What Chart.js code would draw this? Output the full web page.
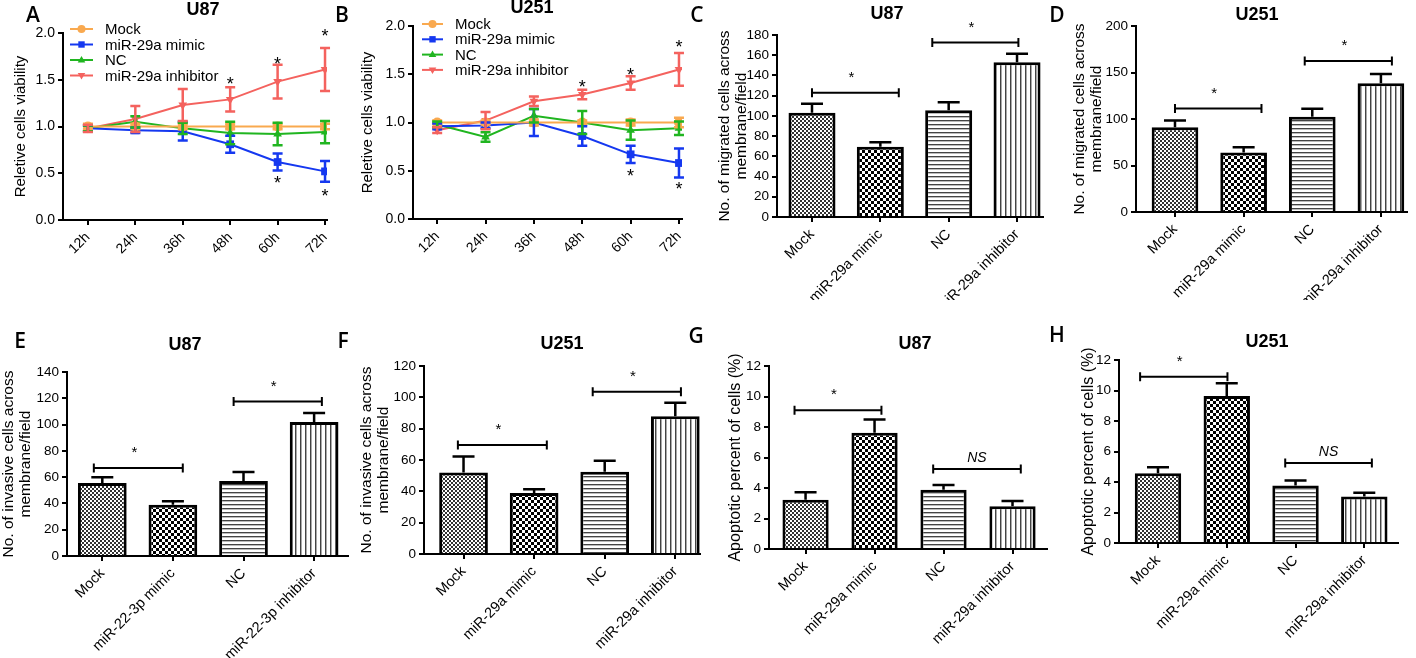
<!DOCTYPE html>
<html>
<head>
<meta charset="utf-8">
<title>miR-29a figure</title>
<script src="https://cdn.jsdelivr.net/npm/chart.js@4.4.1/dist/chart.umd.min.js"></script>
<style>
  html, body { margin: 0; padding: 0; background: #fff; }
  #fig { position: relative; width: 1416px; height: 658px; overflow: hidden; background: #fff; font-family: "Liberation Sans", Arial, sans-serif; }
  #fig canvas { position: absolute; }
  .letter { position: absolute; font-family: "Open Sans", sans-serif; font-weight: 600; font-size: 21px; line-height: 1; transform: translate(-50%, -50%); z-index: 2; }
  .ttl { position: absolute; font-weight: bold; font-size: 18px; line-height: 1; transform: translate(-50%, -50%); z-index: 2; white-space: nowrap; }
</style>
</head>
<body>
<div id="fig">
  <div class="letter" style="left:33px;top:14px">A</div>
  <div class="letter" style="left:342px;top:14px">B</div>
  <div class="letter" style="left:697px;top:14px">C</div>
  <div class="letter" style="left:1057px;top:14px">D</div>
  <div class="letter" style="left:20px;top:340px">E</div>
  <div class="letter" style="left:343px;top:340px">F</div>
  <div class="letter" style="left:696px;top:335px">G</div>
  <div class="letter" style="left:1057px;top:334px">H</div>
  <div class="ttl" style="left:203px;top:9px">U87</div>
  <div class="ttl" style="left:532px;top:7px">U251</div>
  <div class="ttl" style="left:887px;top:13px">U87</div>
  <div class="ttl" style="left:1257px;top:14px">U251</div>
  <div class="ttl" style="left:185px;top:344px">U87</div>
  <div class="ttl" style="left:562px;top:343px">U251</div>
  <div class="ttl" style="left:915px;top:343px">U87</div>
  <div class="ttl" style="left:1267px;top:341px">U251</div>
</div>
<script>
// ---- data ----
const hours = [12, 24, 36, 48, 60, 72];
const lineNames = ['Mock', 'miR-29a mimic', 'NC', 'miR-29a inhibitor'];
const lineColors = ['#f9a94f', '#1538f0', '#20b520', '#f4625e'];
const viabilityTicks = [0, 0.5, 1.0, 1.5, 2.0];

// A: U87 viability
const aMock = [1.0, 1.0, 1.0, 1.0, 1.0, 1.0];
const aMockErr = [0.03, 0.03, 0.03, 0.03, 0.03, 0.03];
const aMimic = [0.98, 0.96, 0.95, 0.81, 0.62, 0.52];
const aMimicErr = [0.03, 0.03, 0.10, 0.09, 0.09, 0.11];
const aNC = [0.98, 1.05, 0.98, 0.93, 0.92, 0.94];
const aNCErr = [0.03, 0.06, 0.06, 0.12, 0.12, 0.12];
const aInhib = [0.98, 1.08, 1.23, 1.29, 1.48, 1.61];
const aInhibErr = [0.04, 0.14, 0.17, 0.13, 0.18, 0.23];
const aStars = [[48, 1.50], [60, 1.71], [72, 2.01], [60, 0.44], [72, 0.30]];

// B: U251 viability
const bMock = [1.0, 1.0, 1.0, 1.0, 1.0, 1.0];
const bMockErr = [0.02, 0.02, 0.03, 0.02, 0.03, 0.05];
const bMimic = [0.96, 0.97, 1.0, 0.86, 0.67, 0.58];
const bMimicErr = [0.03, 0.03, 0.14, 0.10, 0.09, 0.15];
const bNC = [0.98, 0.85, 1.07, 1.0, 0.92, 0.94];
const bNCErr = [0.03, 0.05, 0.07, 0.12, 0.10, 0.07];
const bInhib = [0.92, 1.02, 1.22, 1.29, 1.41, 1.55];
const bInhibErr = [0.03, 0.09, 0.05, 0.05, 0.07, 0.17];
const bStars = [[48, 1.41], [60, 1.54], [72, 1.83], [60, 0.49], [72, 0.36]];

// bar panels
const groups29a = ['Mock', 'miR-29a mimic', 'NC', 'miR-29a inhibitor'];
const groups22 = ['Mock', 'miR-22-3p mimic', 'NC', 'miR-22-3p inhibitor'];

const cMigrated = [103, 69.5, 105.5, 153];
const cMigratedErr = [9, 4.5, 8, 8.5];
const cTicks = [0, 20, 40, 60, 80, 100, 120, 140, 160, 180];
const cSig = [[0, 1.27, 123, '*', 142], [1.76, 3.02, 172.5, '*', 191]];

const dMigrated = [91, 64, 102.5, 138.5];
const dMigratedErr = [7.5, 5.5, 8.5, 10];
const dTicks = [0, 50, 100, 150, 200];
const dSig = [[0, 1.26, 111.3, '*', 131.8], [1.89, 3.16, 162.3, '*', 183]];

const eInvasive = [55.5, 39, 57, 102];
const eInvasiveErr = [4.5, 2.7, 7, 6.8];
const eTicks = [0, 20, 40, 60, 80, 100, 120, 140];
const eSig = [[-0.12, 1.14, 67, '*', 81.8], [1.86, 3.11, 117.5, '*', 132.4]];

const fInvasive = [52, 39, 52.5, 88];
const fInvasiveErr = [10.3, 2.4, 7, 8.6];
const fTicks = [0, 20, 40, 60, 80, 100, 120];
const fSig = [[-0.08, 1.18, 69.6, '*', 82], [1.83, 3.08, 103.6, '*', 115.7]];

const gApoptotic = [3.23, 7.63, 3.88, 2.81];
const gApoptoticErr = [0.49, 0.87, 0.32, 0.33];
const apoTicks = [0, 2, 4, 6, 8, 10, 12];
const gSig = [[-0.16, 1.10, 9.1, '*', 10.4], [1.85, 3.12, 5.25, 'NS', 6.05]];

const hApoptotic = [4.58, 9.64, 3.77, 3.05];
const hApoptoticErr = [0.39, 0.83, 0.33, 0.25];
const hSig = [[-0.26, 1.01, 10.9, '*', 12.2], [1.85, 3.11, 5.24, 'NS', 6.05]];

// ---- setup ----
Chart.defaults.font.family = '"Liberation Sans", Arial, sans-serif';
Chart.defaults.color = '#000';
Chart.defaults.animation = false;
Chart.defaults.plugins.legend.display = false;
Chart.defaults.plugins.tooltip.enabled = false;

function drawLabel(ctx, text, cx, cy, opts) {
    ctx.textAlign = 'center';
    ctx.textBaseline = 'alphabetic';
    if (text === '*') {
        const s = opts.starSize || 15;
        ctx.font = s + 'px "Liberation Sans", Arial';
        ctx.fillText('*', cx + (opts.starDx || 0), cy + 0.57 * s);
    } else {
        ctx.font = 'italic 14px "Liberation Sans", Arial';
        ctx.fillText(text, cx, cy + 0.36 * 14);
    }
}

function drawMarker(ctx, style, flip, x, y, r) {
    ctx.beginPath();
    if (style === 'circle') {
        ctx.arc(x, y, r, 0, Math.PI * 2);
    } else if (style === 'rect') {
        ctx.rect(x - r * 0.8, y - r * 0.8, r * 1.6, r * 1.6);
    } else {
        const d = flip ? -1 : 1;
        ctx.moveTo(x, y - d * r);
        ctx.lineTo(x + r * 0.95, y + d * r * 0.6);
        ctx.lineTo(x - r * 0.95, y + d * r * 0.6);
        ctx.closePath();
    }
    ctx.fill();
}

const errorBars = {
    id: 'errorBars',
    afterDatasetsDraw(chart, args, opts) {
        const ctx = chart.ctx, ys = chart.scales.y;
        chart.data.datasets.forEach(function (ds, i) {
            if (!ds.errors) return;
            const meta = chart.getDatasetMeta(i);
            const cap = opts.cap || 5;
            ctx.save();
            ctx.strokeStyle = opts.color || ds.borderColor;
            ctx.lineWidth = opts.width || 2;
            meta.data.forEach(function (el, j) {
                const v = meta.controller.getParsed(j).y, e = ds.errors[j];
                const top = ys.getPixelForValue(v + e);
                const bot = opts.upOnly ? el.y : ys.getPixelForValue(v - e);
                ctx.beginPath();
                ctx.moveTo(el.x, top); ctx.lineTo(el.x, bot);
                ctx.moveTo(el.x - cap, top); ctx.lineTo(el.x + cap, top);
                if (!opts.upOnly) { ctx.moveTo(el.x - cap, bot); ctx.lineTo(el.x + cap, bot); }
                ctx.stroke();
            });
            ctx.restore();
        });
    }
};

const sigMarks = {
    id: 'sigMarks',
    afterDraw(chart, args, opts) {
        const ctx = chart.ctx, x = chart.scales.x, y = chart.scales.y;
        ctx.save();
        ctx.strokeStyle = '#000';
        ctx.fillStyle = '#000';
        ctx.lineWidth = 2;
        (opts.brackets || []).forEach(function (b) {
            const x1 = x.getPixelForValue(b[0]), x2 = x.getPixelForValue(b[1]), py = y.getPixelForValue(b[2]);
            ctx.beginPath();
            ctx.moveTo(x1, py); ctx.lineTo(x2, py);
            ctx.moveTo(x1, py - 4.5); ctx.lineTo(x1, py + 4.5);
            ctx.moveTo(x2, py - 4.5); ctx.lineTo(x2, py + 4.5);
            ctx.stroke();
            drawLabel(ctx, b[3], (x1 + x2) / 2, y.getPixelForValue(b[4]), opts);
        });
        (opts.stars || []).forEach(function (s) {
            drawLabel(ctx, '*', x.getPixelForValue(s[0]), y.getPixelForValue(s[1]), opts);
        });
        ctx.restore();
    }
};

const insideLegend = {
    id: 'insideLegend',
    afterDraw(chart, args, opts) {
        if (!opts || !opts.show) return;
        const ctx = chart.ctx, area = chart.chartArea;
        ctx.save();
        chart.data.datasets.forEach(function (ds, i) {
            const y = area.top + opts.dy + i * opts.rowH;
            const x0 = area.left + opts.dx;
            ctx.strokeStyle = ds.borderColor;
            ctx.fillStyle = ds.borderColor;
            ctx.lineWidth = 2;
            ctx.beginPath();
            ctx.moveTo(x0, y); ctx.lineTo(x0 + opts.lineLen, y);
            ctx.stroke();
            drawMarker(ctx, ds.pointStyle, ds.pointRotation, x0 + opts.lineLen / 2, y, 4);
            ctx.fillStyle = '#000';
            ctx.font = '15px "Liberation Sans", Arial';
            ctx.textAlign = 'left';
            ctx.textBaseline = 'middle';
            ctx.fillText(ds.label, x0 + opts.textDx, y + 1);
        });
        ctx.restore();
    }
};

Chart.register(errorBars, sigMarks, insideLegend);

function addCanvas(box) {
    const c = document.createElement('canvas');
    c.width = box.w;
    c.height = box.h;
    c.style.left = box.left + 'px';
    c.style.top = box.top + 'px';
    c.style.width = box.w + 'px';
    c.style.height = box.h + 'px';
    document.getElementById('fig').appendChild(c);
    return c;
}

function makePattern(w, h, paint) {
    const c = document.createElement('canvas');
    c.width = w; c.height = h;
    const g = c.getContext('2d');
    g.fillStyle = '#fff';
    g.fillRect(0, 0, w, h);
    paint(g);
    return g.createPattern(c, 'repeat');
}

const barFills = [
    makePattern(4, 4, function (g) { g.fillStyle = '#333'; g.fillRect(0, 0, 2, 2); g.fillRect(2, 2, 2, 2); }),
    makePattern(6, 6, function (g) { g.fillStyle = '#000'; g.fillRect(0, 0, 3, 3); g.fillRect(3, 3, 3, 3); }),
    makePattern(1, 4, function (g) { g.fillStyle = '#444'; g.fillRect(0, 0, 1, 1); g.fillStyle = '#bbb'; g.fillRect(0, 1, 1, 1); }),
    makePattern(5, 1, function (g) { g.fillStyle = '#444'; g.fillRect(0, 0, 1, 1); g.fillStyle = '#aaa'; g.fillRect(1, 0, 1, 1); })
];

function frameOptions(box, x, y) {
    const al = box.area[0], at = box.area[1], ar = box.area[2], ab = box.area[3];
    const axisLine = { color: '#000', width: 2 };
    const tickGrid = { drawOnChartArea: false, color: '#000', lineWidth: 2, tickLength: 5, offset: false };
    return {
        responsive: false,
        layout: { padding: { left: 0, top: at - box.top, right: box.left + box.w - ar, bottom: 0 } },
        scales: {
            x: {
                type: 'linear', min: x.min, max: x.max, offset: false,
                grid: tickGrid, border: axisLine,
                afterBuildTicks: function (s) { s.ticks = x.ticks.map(function (v) { return { value: v }; }); },
                afterFit: function (s) { s.height = box.top + box.h - ab; },
                ticks: { autoSkip: false, minRotation: 45, maxRotation: 45, padding: 4, color: '#000', font: { size: x.size }, callback: x.label }
            },
            y: {
                type: 'linear', min: y.ticks[0], max: y.ticks[y.ticks.length - 1],
                grid: tickGrid, border: axisLine,
                afterBuildTicks: function (s) { s.ticks = y.ticks.map(function (v) { return { value: v }; }); },
                afterFit: function (s) { s.width = al - box.left; },
                ticks: { padding: 3, color: '#000', font: { size: y.tickSize }, callback: y.label },
                title: { display: true, text: y.title, color: '#000', font: { size: y.titleSize, lineHeight: 1.1 }, padding: { top: y.titlePad, bottom: 0 } }
            }
        }
    };
}

function lineChart(box, series, errs, stars, xRange, titlePad, legend) {
    const styles = [['circle', 0], ['rect', 0], ['triangle', 0], ['triangle', 180]];
    const opts = frameOptions(box,
        { min: xRange[0], max: xRange[1], ticks: hours, size: 14, label: function (v) { return v + 'h'; } },
        { ticks: viabilityTicks, tickSize: 14, label: function (v) { return v.toFixed(1); },
          title: 'Reletive cells viability', titleSize: 15, titlePad: titlePad });
    opts.plugins = {
        errorBars: { cap: 5, width: 2.5 },
        sigMarks: { stars: stars, starSize: 18 },
        insideLegend: Object.assign({ show: true }, legend)
    };
    new Chart(addCanvas(box), {
        type: 'line',
        data: {
            datasets: series.map(function (vals, i) {
                return {
                    label: lineNames[i],
                    data: hours.map(function (h, j) { return { x: h, y: vals[j] }; }),
                    errors: errs[i],
                    borderColor: lineColors[i],
                    backgroundColor: lineColors[i],
                    borderWidth: 2,
                    pointStyle: styles[i][0],
                    pointRotation: styles[i][1],
                    pointRadius: i === 1 ? 5.5 : 5,
                    pointBorderWidth: 0,
                    tension: 0,
                    fill: false
                };
            })
        },
        options: opts
    });
}

function barChart(box, cats, vals, errs, yTicks, yTitle, titleSize, titlePad, xRange, pct, sig) {
    const opts = frameOptions(box,
        { min: xRange[0], max: xRange[1], ticks: [0, 1, 2, 3], size: 14.5, label: function (v) { return cats[v]; } },
        { ticks: yTicks, tickSize: 13.5, label: function (v) { return v; },
          title: yTitle, titleSize: titleSize, titlePad: titlePad });
    opts.plugins = {
        errorBars: { cap: 11, width: 2.5, color: '#000', upOnly: true },
        sigMarks: { brackets: sig, starSize: 15, starDx: -4 }
    };
    new Chart(addCanvas(box), {
        type: 'bar',
        data: {
            datasets: [{
                data: vals.map(function (v, i) { return { x: i, y: v }; }),
                errors: errs,
                backgroundColor: barFills,
                borderColor: '#000',
                borderWidth: 3,
                borderSkipped: 'start',
                barPercentage: pct,
                categoryPercentage: 1
            }]
        },
        options: opts
    });
}

const migratedTitle = ['No. of migrated cells across', 'membrane/field'];
const invasiveTitle = ['No. of invasive cells across', 'membrane/field'];
const apoTitle = 'Apoptotic percent of cells (%)';

lineChart({ left: 0, top: 0, w: 350, h: 270, area: [63, 33, 327, 220] },
    [aMock, aMimic, aNC, aInhib], [aMockErr, aMimicErr, aNCErr, aInhibErr], aStars,
    [5.7, 72.5], 12.25, { dx: 7, dy: -4, rowH: 15.5, lineLen: 23, textDx: 35 });

lineChart({ left: 350, top: 0, w: 355, h: 270, area: [413, 26, 682, 219] },
    [bMock, bMimic, bNC, bInhib], [bMockErr, bMimicErr, bNCErr, bInhibErr], bStars,
    [6.0, 72.75], 9.25, { dx: 9, dy: -2, rowH: 15.3, lineLen: 21, textDx: 33 });

barChart({ left: 700, top: 0, w: 370, h: 300, area: [777, 35, 1043, 217] },
    groups29a, cMigrated, cMigratedErr, cTicks, migratedTitle, 15.5, 16.5, [-0.512, 3.38], 0.688, cSig);

barChart({ left: 1060, top: 0, w: 356, h: 300, area: [1136, 26, 1407, 212] },
    groups29a, dMigrated, dMigratedErr, dTicks, migratedTitle, 15.5, 11.5, [-0.568, 3.38], 0.68, dSig);

barChart({ left: 0, top: 320, w: 370, h: 338, area: [67, 372, 348, 556] },
    groups22, eInvasive, eInvasiveErr, eTicks, invasiveTitle, 15.5, 0, [-0.50, 3.48], 0.69, eSig);

barChart({ left: 345, top: 320, w: 370, h: 338, area: [424, 366, 700, 554] },
    groups29a, fInvasive, fInvasiveErr, fTicks, invasiveTitle, 15.5, 13.5, [-0.56, 3.35], 0.69, fSig);

barChart({ left: 700, top: 320, w: 370, h: 338, area: [769, 366, 1047, 549] },
    groups29a, gApoptotic, gApoptoticErr, apoTicks, apoTitle, 16, 27.2, [-0.53, 3.5], 0.67, gSig);

barChart({ left: 1060, top: 320, w: 356, h: 338, area: [1119, 360, 1398, 543] },
    groups29a, hApoptotic, hApoptoticErr, apoTicks, apoTitle, 16, 19.7, [-0.567, 3.49], 0.675, hSig);
</script>
</body>
</html>
